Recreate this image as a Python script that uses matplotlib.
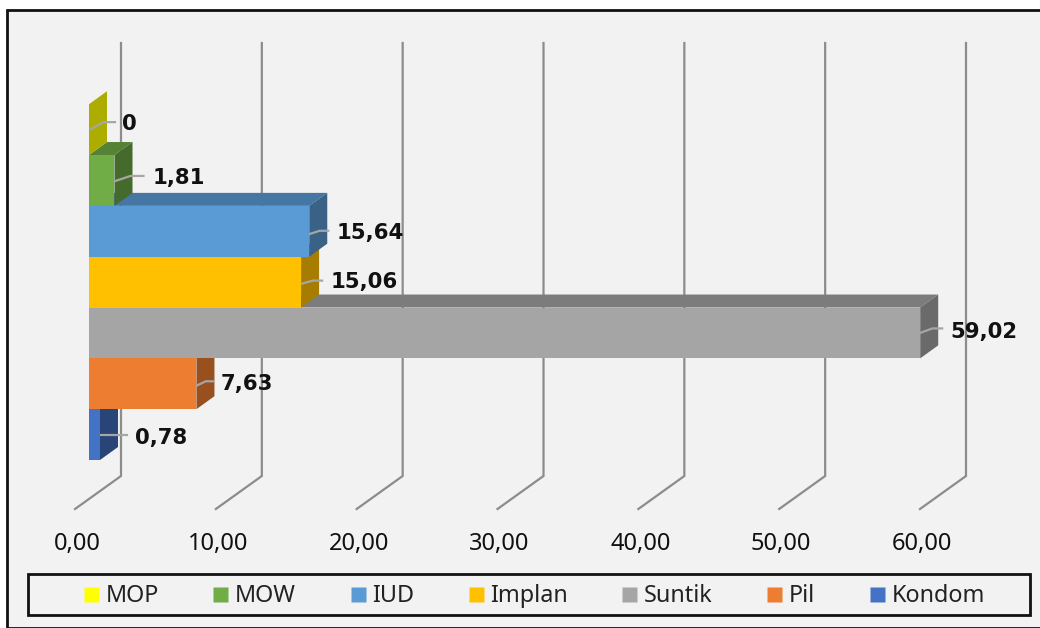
import matplotlib
matplotlib.use("Agg")
import matplotlib.pyplot as plt
from matplotlib.patches import Polygon, Rectangle
from matplotlib.lines import Line2D
from matplotlib.colors import to_rgb
from matplotlib.transforms import ScaledTranslation

categories = ["Kondom", "Pil", "Suntik", "Implan", "IUD", "MOW", "MOP"]
values = [0.78, 7.63, 59.02, 15.06, 15.64, 1.81, 0]
value_labels = ["0,78", "7,63", "59,02", "15,06", "15,64", "1,81", "0"]
x_ticks = [0, 10, 20, 30, 40, 50, 60]
x_tick_labels = ["0,00", "10,00", "20,00", "30,00", "40,00", "50,00", "60,00"]

colors = ["#4472C4", "#ED7D31", "#A5A5A5", "#FFC000", "#5B9BD5", "#70AD47", "#FFFF00"]
top_shade = [0.74, 0.74, 0.75, 0.74, 0.77, 0.76, 0.68]
side_shade = [0.60, 0.64, 0.64, 0.65, 0.63, 0.62, 0.68]
# leader / label placement relative to a bar's front-right corner, in pixels
leader_start = [(1, 0), (1, -1.5), (0, 0), (1, -1.5), (1, -2.5), (1, -0.5), (2, 0.5)]
leader_end = [(27, 0), (17, 2.5), (22, 4.5), (21, 1.5), (19, 0.5), (29, 4.5), (26, 7.5)]
label_gap = [35, 24, 30, 29, 27, 38, 33]
label_rise = [-3, 0, 1, 0, -2, 2, 6]

W, H = 1040, 628
BG = "#F2F2F2"
GRID = "#8C8C8C"
SANS = ["Noto Sans", "DejaVu Sans"]

fig = plt.figure(figsize=(W / 100, H / 100), dpi=100, facecolor="white")
fig.patches.append(Rectangle((7 / W, 1 - 628 / H), 1040 / W, 618 / H, transform=fig.transFigure,
                             facecolor=BG, edgecolor="#111111", linewidth=2, zorder=-2))

# axes: x 0..60 spans the front floor edge, y is category index
x0, x60, y_bottom, y_top = 75, 920, 509, 75
ax = fig.add_axes([x0 / W, 1 - y_bottom / H, (x60 - x0) / W, (y_bottom - y_top) / H])
ax.patch.set_alpha(0)
px_x = (x60 - x0) / 60
px_y = 50.83
center0 = 434.6
ax.set_xlim(0, 60)
ax.set_ylim((center0 - y_bottom) / px_y, (center0 - y_top) / px_y)
for s in ax.spines.values():
    s.set_visible(False)
ax.set_yticks([])
ax.set_xticks(x_ticks, x_tick_labels, fontsize=17, family=SANS, color="#111111")
ax.tick_params(axis="x", length=0, pad=16.5)
for lab in ax.get_xticklabels():
    lab.set_transform(lab.get_transform() + ScaledTranslation(2 / 100, 0, fig.dpi_scale_trans))


def dx(p):
    return p / px_x


def dy(p):
    return p / px_y


y_floor = ax.get_ylim()[0]
for t in x_ticks:
    ax.plot([t, t + dx(46), t + dx(46)], [y_floor, y_floor + dy(33), y_floor + dy(33) + dy(433)],
            color=GRID, lw=1.6, clip_on=False, zorder=1, solid_joinstyle="miter")

bar_dx, bar_dy, start = dx(18), dy(13), dx(14)
for i, (v, c) in enumerate(zip(values, colors)):
    rgb = to_rgb(c)
    top = tuple(k * top_shade[i] for k in rgb)
    side = tuple(k * side_shade[i] for k in rgb)
    xl, xr = start, start + v
    yb, yt = i - 0.5, i + 0.5
    z = 2 + i
    ax.add_patch(Polygon([(xl, yt), (xl + bar_dx, yt + bar_dy), (xr + bar_dx, yt + bar_dy), (xr, yt)],
                         fc=top, ec="none", zorder=z, clip_on=False))
    ax.add_patch(Polygon([(xr, yb), (xr + bar_dx, yb + bar_dy), (xr + bar_dx, yt + bar_dy), (xr, yt)],
                         fc=side, ec="none", zorder=z, clip_on=False))
    if v > 0:
        ax.add_patch(Rectangle((xl, yb), v, 1, fc=c, ec="none", zorder=z, clip_on=False))

for i, (v, lab) in enumerate(zip(values, value_labels)):
    xr = start + v
    sx, sy = leader_start[i]
    ex, ey = leader_end[i]
    ax.plot([xr + dx(sx), xr + dx(ex * 0.55), xr + dx(ex)],
            [i + dy(sy), i + dy(ey), i + dy(ey)],
            color="#A6A6A6", lw=1.6, zorder=20, clip_on=False)
    ax.text(xr + dx(label_gap[i]), i + dy(label_rise[i]), lab, fontsize=15.3, fontweight="bold",
            family="DejaVu Sans", color="#111111", va="center", ha="left", zorder=21, clip_on=False)

# legend
fig.patches.append(Rectangle((28 / W, 1 - 614.5 / H), 1002 / W, 40.5 / H, transform=fig.transFigure,
                             facecolor=BG, edgecolor="#111111", linewidth=2, zorder=-1))
handles = [Line2D([], [], ls="none", marker="s", ms=10.8, mfc=c, mec="none") for c in reversed(colors)]
leg = fig.legend(handles, list(reversed(categories)), loc="center", ncol=7, frameon=False,
                 bbox_to_anchor=(532 / W, 1 - 596 / H), prop={"family": SANS, "size": 16.8},
                 handlelength=1.0, handletextpad=0.13, columnspacing=2.13, borderpad=0, labelcolor="#222222")

fig.savefig("out.png", dpi=100, facecolor="white")
